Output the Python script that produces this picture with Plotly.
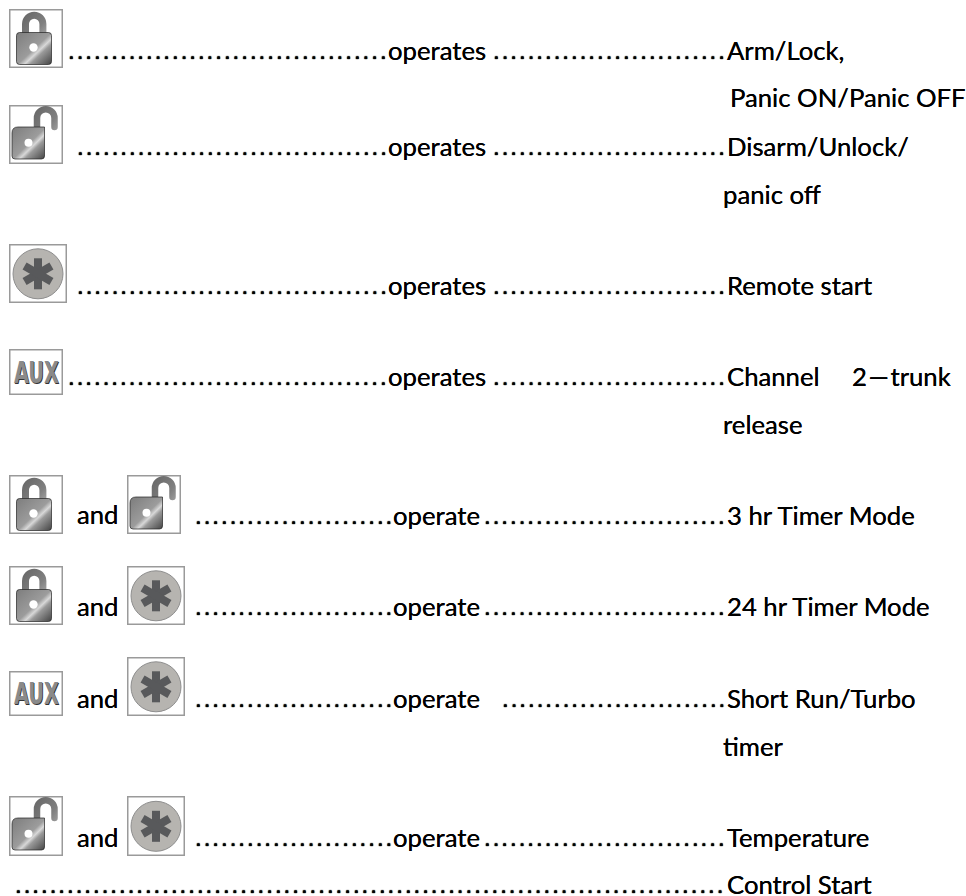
import base64
import plotly.graph_objects as go

# ---- content ----
BODY_FONT = "Lato"
BODY_SIZE = 25.7
DOT_FONT = "DejaVu Sans Mono"
DOT_SIZE = 14.4

# text, left edge, baseline
words = [
    ("operates", 387, 60), ("operates", 387, 156), ("operates", 387, 295), ("operates", 387, 386),
    ("and", 76, 524), ("operate", 392, 525),
    ("and", 76, 616), ("operate", 392, 616),
    ("and", 76, 708), ("operate", 392, 708),
    ("and", 76, 847), ("operate", 392, 847),
    ("Arm/Lock,", 726, 60),
    ("Panic ON/Panic OFF", 729, 107),
    ("Disarm/Unlock/", 726, 156),
    ("panic off", 722, 204),
    ("Remote start", 726, 295),
    ("Channel", 726, 386),
    ("2\u200a—\u200atrunk", 851, 386),
    ("release", 722, 434),
    ("3 hr Timer Mode", 726, 525),
    ("24 hr Timer Mode", 726, 616),
    ("Short Run/Turbo", 726, 708),
    ("timer", 722, 756),
    ("Temperature", 726, 847),
    ("Control Start", 726, 894),
]

# number of leader dots, first-dot centre, baseline
dot_runs = [
    (37, 70, 60), (27, 495, 60),
    (36, 79, 156), (27, 495, 156),
    (36, 79, 295), (27, 495, 295),
    (37, 70, 386), (27, 495, 386),
    (23, 197, 525), (28, 486, 525),
    (23, 197, 616), (28, 486, 616),
    (23, 197, 708), (26, 504, 708),
    (23, 197, 847), (28, 486, 847),
    (82, 17, 894),
]

# icon kind, left, top, width, height
icons = [
    ("lock", 9, 9, 54, 59), ("unlock", 9, 105, 54, 59), ("star", 9, 244, 58, 59), ("aux", 9, 349, 54, 46),
    ("lock", 9, 475, 54, 59), ("unlock", 127, 475, 54, 59),
    ("lock", 9, 566, 54, 59), ("star", 127, 566, 58, 59),
    ("aux", 9, 671, 54, 45), ("star", 127, 657, 58, 59),
    ("unlock", 9, 796, 54, 60), ("star", 127, 796, 58, 60),
]

# ---- icon artwork ----
DEFS = ('<defs><linearGradient id="g" gradientUnits="userSpaceOnUse" x1="{x1}" y1="{y1}" x2="{x2}" y2="{y2}">'
        '<stop offset="0" stop-color="#7e7e7e"/><stop offset=".5" stop-color="#9c9c9c"/>'
        '<stop offset=".6" stop-color="#d8d8d8"/><stop offset=".68" stop-color="#9a9a9a"/>'
        '<stop offset="1" stop-color="#424242"/></linearGradient>'
        '<linearGradient id="s" x1="0" y1="0" x2="1" y2="1">'
        '<stop offset="0" stop-color="#6a6a6a"/><stop offset=".7" stop-color="#808080"/>'
        '<stop offset="1" stop-color="#9a9a9a"/></linearGradient></defs>')
FRAME = '<rect x=".75" y=".75" width="{w}" height="{h}" fill="#fff" stroke="#9a9a9a" stroke-width="1.5"/>'


def svg(kind, w, h):
    body = FRAME.format(w=w - 1.5, h=h - 1.5)
    if kind == "lock":
        body += DEFS.format(x1=10, y1=22, x2=42, y2=56)
        body += '<path d="M16.5 26V15a8.7 8.7 0 0 1 17.4 0V26" fill="none" stroke="url(#s)" stroke-width="7"/>'
        body += '<rect x="7.5" y="23.5" width="35" height="32" rx="3" fill="url(#g)" stroke="#222" stroke-width=".7"/>'
        body += '<circle cx="24.5" cy="38.5" r="4.2" fill="#fff"/>'
    elif kind == "unlock":
        body += DEFS.format(x1=5, y1=22, x2=36, y2=54)
        body += '<path d="M28 28V13a8.5 8.5 0 0 1 17.5 0v9" fill="none" stroke="url(#s)" stroke-width="6.5" stroke-linecap="round"/>'
        body += '<path d="M3 28q0-6 6-6h26.5V51q0 3-3 3H6q-3 0-3-3Z" fill="url(#g)" stroke="#222" stroke-width=".7"/>'
        body += '<circle cx="19.5" cy="37.8" r="4" fill="#fff"/>'
    elif kind == "aux":
        pass
    else:
        cx, cy = w / 2, h / 2 + .3
        body += f'<circle cx="{cx}" cy="{cy}" r="25" fill="#b6b4b0" stroke="#8e8e8e" stroke-width="1"/>'
        for a in (0, 60, 120):
            body += (f'<rect x="{cx-4}" y="{cy-15.5}" width="8" height="31" fill="#58595b" '
                     f'transform="rotate({a} {cx} {cy})"/>')
    doc = f'<svg xmlns="http://www.w3.org/2000/svg" width="{w}" height="{h}" viewBox="0 0 {w} {h}">{body}</svg>'
    return "data:image/svg+xml;base64," + base64.b64encode(doc.encode()).decode()


W, H = 966, 896
images = [dict(source=svg(k, w, h), xref="paper", yref="paper", x=x / W, y=1 - y / H,
               sizex=w / W, sizey=h / H, xanchor="left", yanchor="top", sizing="stretch", layer="below")
          for k, x, y, w, h in icons]


# ---- text ----
def note(text, x, baseline, size, family, k, **font):
    return dict(text=text, x=x, y=baseline - k * size, xref="x", yref="y", showarrow=False,
                xanchor="left", yanchor="middle", align="left", borderpad=0,
                font=dict(family=family, size=size, color="#000000", **font))


annotations = [note(t, x, b, BODY_SIZE, BODY_FONT, 0.39, shadow="0 0 .3px #000") for t, x, b in words]
for n, c, b in dot_runs:
    annotations.append(note("." * n, c - DOT_SIZE * 0.301, b - 0.5, DOT_SIZE, DOT_FONT, 0.36, weight="bold",
                            shadow="0 0 1px #000, 0 0 1px #000"))
for k, x, y, w, h in icons:
    if k == "aux":
        a = note("AUX", x + 4, y + h / 2 + 8, 21.5, "DejaVu Sans Condensed", 0.36, weight="bold",
                 shadow="1px 1px 0 #333")
        a["font"]["color"] = "#8a8a8a"
        annotations.append(a)

fig = go.Figure()
fig.update_layout(
    width=W, height=H, margin=dict(l=0, r=0, t=0, b=0),
    paper_bgcolor="white", plot_bgcolor="white", showlegend=False,
    xaxis=dict(range=[0, W], visible=False, fixedrange=True),
    yaxis=dict(range=[H, 0], visible=False, fixedrange=True),
    images=images, annotations=annotations,
)
STRETCH = ("document.body.style.margin='0';"
           "setTimeout(function(){document.querySelectorAll('.annotation-text').forEach(function(t){"
           "if(t.textContent==='AUX'){t.style.transformBox='fill-box';t.style.transformOrigin='center';"
           "t.style.transform='scaleY(1.4)';}});},50);")
fig.write_html("out.html", config=dict(displayModeBar=False), post_script=STRETCH)
